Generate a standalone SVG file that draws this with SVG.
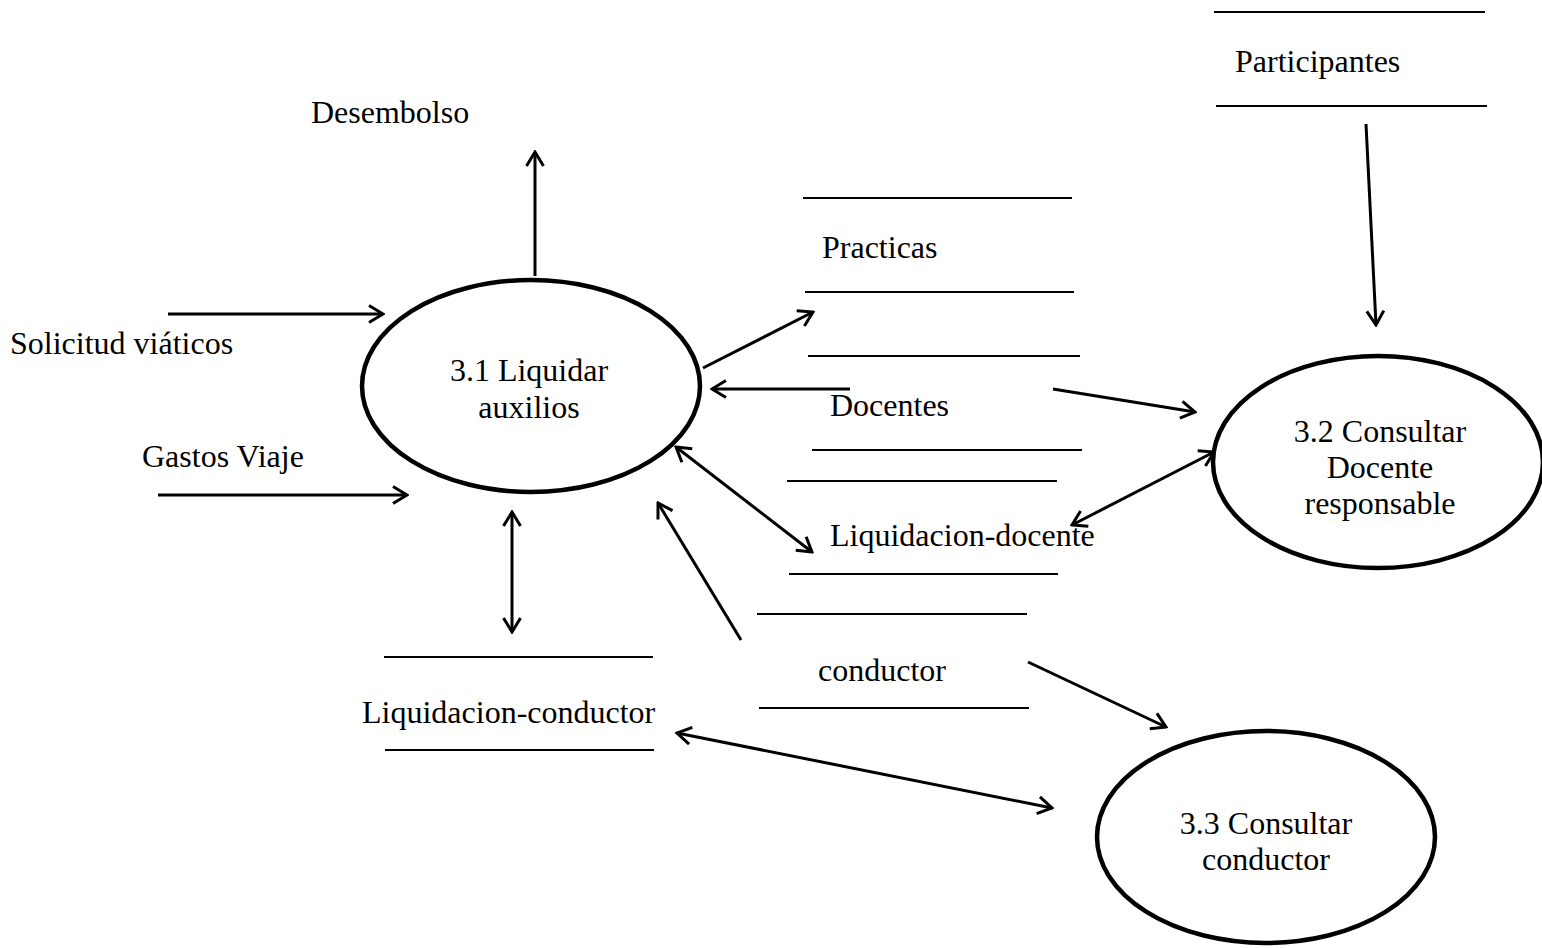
<svg xmlns="http://www.w3.org/2000/svg" width="1542" height="948" viewBox="0 0 1542 948">
<style>
text{font-family:'Liberation Serif','DejaVu Serif',serif;font-size:32px;fill:#000}
.proc{fill:none;stroke:#000;stroke-width:4.5}
.store line{stroke:#000;stroke-width:2}
.flow line{stroke:#000;stroke-width:3;fill:none}
.end{marker-end:url(#ah)}
.both{marker-start:url(#ah);marker-end:url(#ah)}
</style>
<defs>
<marker id="ah" markerUnits="userSpaceOnUse" viewBox="0 0 18 20" refX="16" refY="10" markerWidth="18" markerHeight="20" orient="auto-start-reverse">
<path d="M2,1.5 L16,10 L2,18.5" fill="none" stroke="#000" stroke-width="3"/>
</marker>
</defs>
<rect width="1542" height="948" fill="#fff"/>

<g id="p31">
<ellipse class="proc" cx="531" cy="386" rx="169" ry="106"/>
<text x="529" y="381" text-anchor="middle">3.1 Liquidar</text>
<text x="529" y="418" text-anchor="middle">auxilios</text>
</g>
<g id="p32">
<ellipse class="proc" cx="1378" cy="462" rx="165" ry="106"/>
<text x="1380" y="442" text-anchor="middle">3.2 Consultar</text>
<text x="1380" y="478" text-anchor="middle">Docente</text>
<text x="1380" y="514" text-anchor="middle">responsable</text>
</g>
<g id="p33">
<ellipse class="proc" cx="1266" cy="837" rx="169" ry="106"/>
<text x="1266" y="834" text-anchor="middle">3.3 Consultar</text>
<text x="1266" y="870" text-anchor="middle">conductor</text>
</g>

<g id="ds-participantes" class="store">
<line x1="1214" y1="12" x2="1485" y2="12"/>
<line x1="1216" y1="106" x2="1487" y2="106"/>
<text x="1235" y="72">Participantes</text>
</g>
<g id="ds-practicas" class="store">
<line x1="803" y1="198" x2="1072" y2="198"/>
<line x1="805" y1="292" x2="1074" y2="292"/>
<text x="822" y="258">Practicas</text>
</g>
<g id="ds-docentes" class="store">
<line x1="808" y1="356" x2="1080" y2="356"/>
<line x1="812" y1="450" x2="1082" y2="450"/>
<text x="830" y="416">Docentes</text>
</g>
<g id="ds-liq-docente" class="store">
<line x1="787" y1="481" x2="1057" y2="481"/>
<line x1="789" y1="574" x2="1058" y2="574"/>
<text x="830" y="546">Liquidacion-docente</text>
</g>
<g id="ds-conductor" class="store">
<line x1="757" y1="614" x2="1027" y2="614"/>
<line x1="759" y1="708" x2="1029" y2="708"/>
<text x="818" y="681">conductor</text>
</g>
<g id="ds-liq-conductor" class="store">
<line x1="384" y1="657" x2="653" y2="657"/>
<line x1="385" y1="750" x2="654" y2="750"/>
<text x="362" y="723">Liquidacion-conductor</text>
</g>

<g id="ext-labels">
<text x="311" y="123">Desembolso</text>
<text x="10" y="354">Solicitud viáticos</text>
<text x="142" y="467">Gastos Viaje</text>
</g>

<g id="connectors" class="flow">
<line class="end" x1="535" y1="276" x2="535" y2="152"/>
<line class="end" x1="168" y1="314" x2="383" y2="314"/>
<line class="end" x1="158" y1="495" x2="407" y2="495"/>
<line class="end" x1="703" y1="368" x2="813" y2="312"/>
<line class="end" x1="850" y1="389" x2="712" y2="389"/>
<line class="both" x1="676" y1="447" x2="812" y2="552"/>
<line class="end" x1="741" y1="640" x2="658" y2="503"/>
<line class="both" x1="512" y1="512" x2="512" y2="632"/>
<line class="end" x1="1053" y1="389" x2="1195" y2="412"/>
<line class="end" x1="1366" y1="124" x2="1376" y2="325"/>
<line class="both" x1="1214" y1="452" x2="1072" y2="525"/>
<line class="end" x1="1028" y1="662" x2="1166" y2="727"/>
<line class="both" x1="677" y1="733" x2="1052" y2="808"/>
</g>
</svg>
